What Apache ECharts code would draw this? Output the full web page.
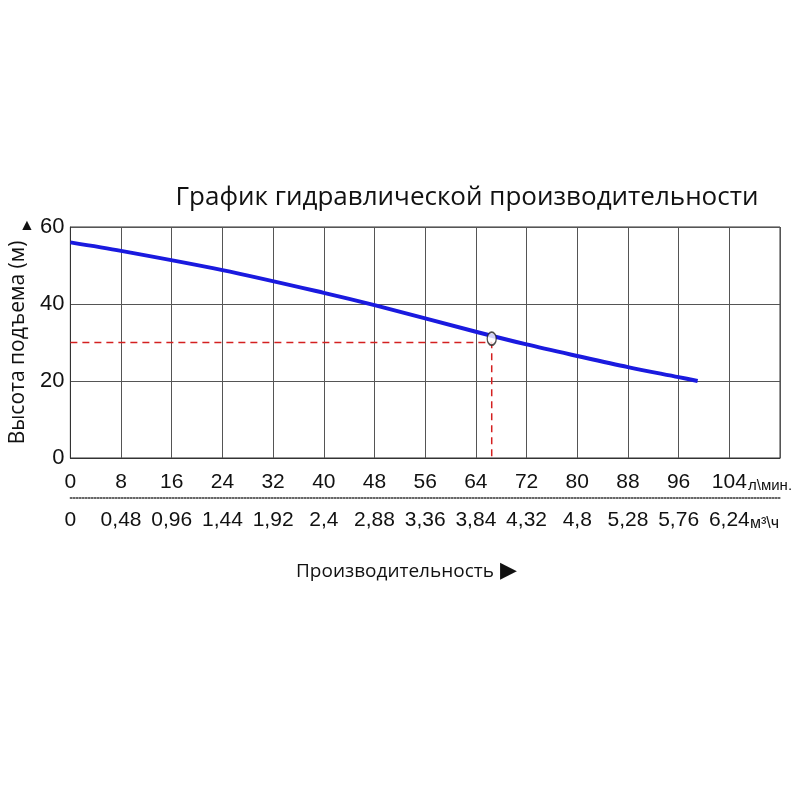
<!DOCTYPE html>
<html><head><meta charset="utf-8">
<script src="https://cdn.jsdelivr.net/npm/echarts@6/dist/echarts.min.js"></script>
<style>html,body{margin:0;background:#fff}#c{width:800px;height:800px}</style>
</head><body><div id="c"></div>
<script>
var flowLpm = [0, 8, 24, 40, 48, 64, 72, 80, 88, 96, 99];
var headM = [56, 53.8, 48.8, 42.9, 39.7, 32.8, 29.5, 26.5, 23.6, 21, 20];
var dutyPoint = [66.5, 30];
var m3hLabels = ['0', '0,48', '0,96', '1,44', '1,92', '2,4', '2,88', '3,36', '3,84', '4,32', '4,8', '5,28', '5,76', '6,24'];
var font = '"Liberation Sans Narrow", "Liberation Sans", sans-serif';

var chart = echarts.init(document.getElementById('c'));
chart.setOption({
	animation: false,
	title: {
		text: 'График гидравлической производительности',
		left: 462, top: 180, textAlign: 'center',
		textStyle: {fontSize: 26, fontWeight: 'normal', color: '#111', fontFamily: '"Open Sans", sans-serif'}
	},
	grid: {left: 66, right: 20, top: 227, bottom: 342, show: true, borderColor: '#333', borderWidth: 1},
	xAxis: [{
		type: 'value', min: 0, max: 112, interval: 8, position: 'bottom',
		axisLine: {lineStyle: {color: '#333'}}, axisTick: {show: false},
		splitLine: {lineStyle: {color: '#555'}},
		axisLabel: {
			margin: 14, color: '#111', fontSize: 21, fontFamily: font,
			formatter: function(v) { return v === 112 ? '' : v; }
		}
	}, {
		type: 'value', min: 0, max: 112, interval: 8, position: 'bottom', offset: 40,
		axisLine: {show: true, lineStyle: {color: '#333', type: 'dotted', width: 1.5}}, axisTick: {show: false},
		splitLine: {show: false},
		axisLabel: {
			margin: 12, color: '#111', fontSize: 21, fontFamily: font,
			formatter: function(v) { return v === 112 ? '' : m3hLabels[v / 8]; }
		}
	}],
	yAxis: {
		type: 'value', min: 0, max: 60, interval: 20,
		name: 'Высота подъема (м)', nameLocation: 'middle', nameGap: 28,
		nameTextStyle: {fontSize: 21, color: '#111', fontFamily: '"Open Sans", sans-serif'},
		axisLine: {show: true, lineStyle: {color: '#333'}}, axisTick: {show: false},
		splitLine: {lineStyle: {color: '#555'}},
		axisLabel: {margin: 6, color: '#111', fontSize: 22, fontFamily: font}
	},
	graphic: [
		{type: 'text', left: 19, top: 218, style: {text: '▲', fontSize: 16, fill: '#111'}},
		{type: 'text', left: 748, top: 478, style: {text: 'л\\мин.', fontSize: 15, fill: '#111', fontFamily: font}},
		{type: 'text', left: 750, top: 516, style: {text: 'м³\\ч', fontSize: 16, fill: '#111', fontFamily: font}},
		{type: 'text', left: 296, top: 562, style: {text: 'Производительность', fontSize: 19, fill: '#111', fontFamily: '"Open Sans", sans-serif'}},
		{type: 'text', left: 500, top: 560, style: {text: '▶', fontSize: 22, fill: '#111'}}
	],
	series: [{
		type: 'line', smooth: 0.3, showSymbol: false,
		lineStyle: {color: '#1a1adf', width: 4},
		data: flowLpm.map(function(x, i) { return [x, headM[i]]; })
	}, {
		type: 'line', symbol: 'none',
		lineStyle: {color: '#d42020', width: 1.5, type: [7, 5]},
		data: [[0, dutyPoint[1]], dutyPoint, [dutyPoint[0], 0]]
	}, {
		type: 'scatter', symbol: 'circle', symbolSize: [9, 13],
		itemStyle: {color: '#fff', borderColor: '#222', borderWidth: 1.5},
		data: [[dutyPoint[0], 31]], z: 5
	}]
});
</script>
</body></html>
